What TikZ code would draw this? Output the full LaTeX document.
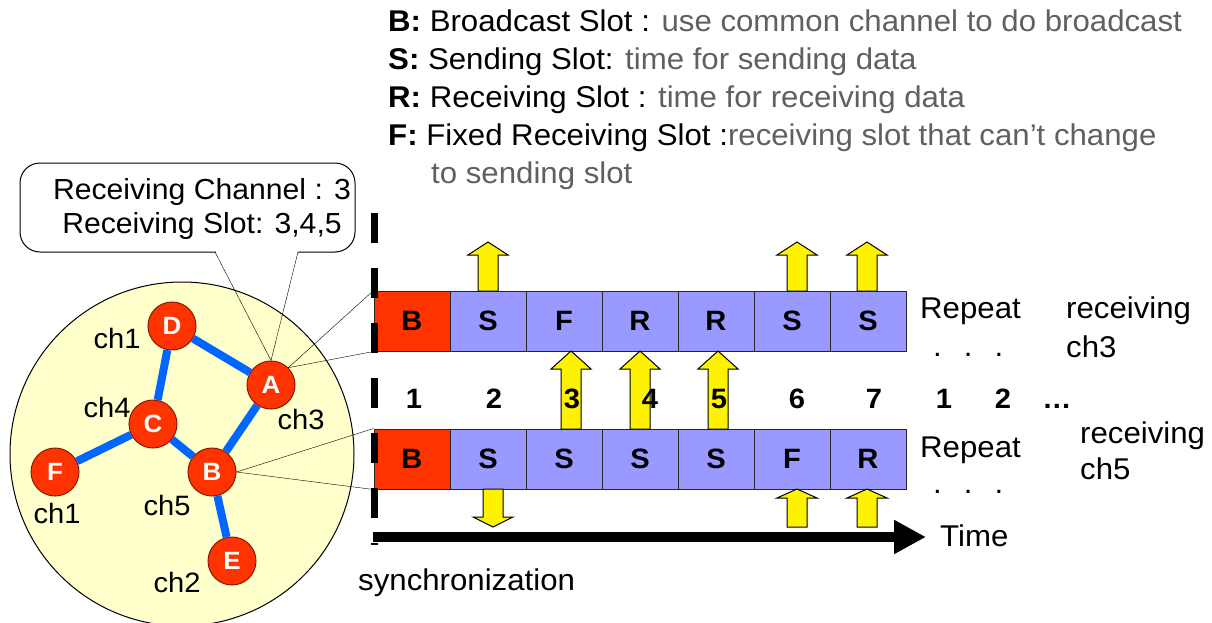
\documentclass[tikz,border=0pt]{standalone}
\usepackage{fontspec}
\setmainfont[FakeStretch=1.04]{Liberation Sans}
\usetikzlibrary{arrows.meta,calc}

\definecolor{slotblue}{HTML}{9999FF}
\definecolor{slotred}{HTML}{FF3300}
\definecolor{hostred}{HTML}{FF3300}
\definecolor{hostline}{HTML}{8A1A00}
\definecolor{linkblue}{HTML}{0066FF}
\definecolor{bgyellow}{HTML}{FFFFCC}
\definecolor{note}{HTML}{606060}

% block arrow: x, start y, head base y, tip y
\newcommand{\fatarrow}[4]{%
  \draw[yarrow] ({#1-10},#2) -- ({#1-10},#3) -- ({#1-20},#3) -- (#1,#4)
    -- ({#1+20},#3) -- ({#1+10},#3) -- ({#1+10},#2) -- cycle;}

\begin{document}
\begin{tikzpicture}[x=1pt, y=-1pt,
  slot/.style={draw=black!85, line width=1pt, fill=slotblue, minimum width=76pt, minimum height=60pt, inner sep=0pt, font=\bfseries\fontsize{28}{34}\selectfont},
  host/.style={circle, draw=hostline, line width=1pt, fill=hostred, text=white, minimum size=48pt, inner sep=0pt, font=\bfseries\fontsize{25}{30}\selectfont},
  link/.style={line width=8pt, linkblue},
  chan/.style={inner sep=0pt, font=\fontsize{28}{34}\selectfont},
  txt/.style={inner sep=0pt, anchor=base west, font=\fontsize{30}{34}\selectfont},
  num/.style={inner sep=0pt, anchor=base, font=\bfseries\fontsize{28}{34}\selectfont},
  yarrow/.style={draw, line width=1pt, fill=yellow, line join=miter}]

\useasboundingbox (0,0) rectangle (1212,623);

% legend
\node[txt] (legB) at (388,32) {\textbf{B:} Broadcast Slot : \textcolor{note}{use common channel to do broadcast}};
\node[txt] (legS) at (388,70) {\textbf{S:} Sending Slot: \textcolor{note}{time for sending data}};
\node[txt] (legR) at (388,108) {\textbf{R:} Receiving Slot : \textcolor{note}{time for receiving data}};
\node[txt] (legF) at (388,146) {\textbf{F:} Fixed Receiving Slot :\textcolor{note}{receiving slot that can’t change}};
\node[txt] (legF2) at (431,183) {\textcolor{note}{to sending slot}};

% the network
\draw[fill=bgyellow, line width=1pt] (182,454) circle [radius=172];
\node[host] (D) at (172,326) {D};
\node[host] (A) at (271,385) {A};
\node[host] (C) at (153,424) {C};
\node[host] (B) at (212,472) {B};
\node[host] (F) at (55,472) {F};
\node[host] (E) at (232,561) {E};
\draw[link] (D) -- (A);
\draw[link] (D) -- (C);
\draw[link] (C) -- (F);
\draw[link] (C) -- (B);
\draw[link] (B) -- (A);
\draw[link] (B) -- (E);

\node[chan] (chD) at (117,338) {ch1};
\node[chan] (chC) at (107,407) {ch4};
\node[chan] (chA) at (301,419) {ch3};
\node[chan] (chF) at (57,513) {ch1};
\node[chan] (chB) at (167,505) {ch5};
\node[chan] (chE) at (177,582) {ch2};

% callout of A
\node[draw, fill=white, line width=1pt, rounded corners=20pt, minimum width=335pt, minimum height=89pt] (info) at (187.5,207.5) {};
\node[align=center, inner sep=0pt, font=\fontsize{29}{34}\selectfont] (infotext) at (202,209) {Receiving Channel : 3\\Receiving Slot: 3,4,5};
\coordinate (p1) at (215,252);
\coordinate (p2) at (298,252);
\fill[white] ($(p1)+(0.5,-2)$) rectangle ($(p2)+(-0.5,2)$);
\draw (p1) -- (A.north) -- (p2);

% slot frames
\node[slot, fill=slotred] (u1) at (412,321) {B};
\foreach \l [count=\i from 2] in {S,F,R,R,S,S}
  \node[slot] (u\i) at ({336+76*\i},321) {\l};
\node[slot, fill=slotred] (v1) at (412,459) {B};
\foreach \l [count=\i from 2] in {S,S,S,S,F,R}
  \node[slot] (v\i) at ({336+76*\i},459) {\l};

\draw (A.north east) -- (u1.north west);
\draw (A.north east) -- (u1.south west);
\draw (B.east) -- (v1.north west);
\draw (B.east) -- (v1.south west);

% sending / receiving arrows
\fatarrow{488}{291}{255}{242}
\fatarrow{797}{291}{255}{242}
\fatarrow{867}{291}{255}{242}
\fatarrow{571}{429}{369}{351}
\fatarrow{640}{429}{369}{351}
\fatarrow{718}{429}{369}{351}
\fatarrow{493}{489}{517}{527}
\fatarrow{797}{527}{498}{489}
\fatarrow{867}{527}{498}{489}

% slot numbers
\foreach \n/\x in {1/414,2/494,3/572,4/650,5/719,6/797,7/874,1/944,2/1003}
  \node[num] (n\x) at (\x,408) {\n};
\node[num] (nmore) at (1057,408) {\ldots};

\node[txt] (rep1) at (920,318) {Repeat};
\node[txt] (dots1) at (933,356) {.\hspace{22pt}.\hspace{22pt}.};
\node[txt] (rcv1) at (1066,318) {receiving};
\node[txt] (ch3) at (1066,357) {ch3};
\node[txt] (rep2) at (920,457) {Repeat};
\node[txt] (dots2) at (933,493) {.\hspace{22pt}.\hspace{22pt}.};
\node[txt] (rcv2) at (1080,443) {receiving};
\node[txt] (ch5) at (1080,479) {ch5};

% time axis
\coordinate (t0) at (373,537);
\coordinate (t1) at (926,537);
\draw[line width=10pt, -{Triangle[length=32pt,width=32pt]}] (t0) -- (t1);
\draw[line width=7pt, dash pattern=on 30pt off 25pt] (374,213) -- (374,545);
\node[txt] (time) at (940,546) {Time};
\node[txt] (sync) at (358,590) {synchronization};
\end{tikzpicture}
\end{document}
